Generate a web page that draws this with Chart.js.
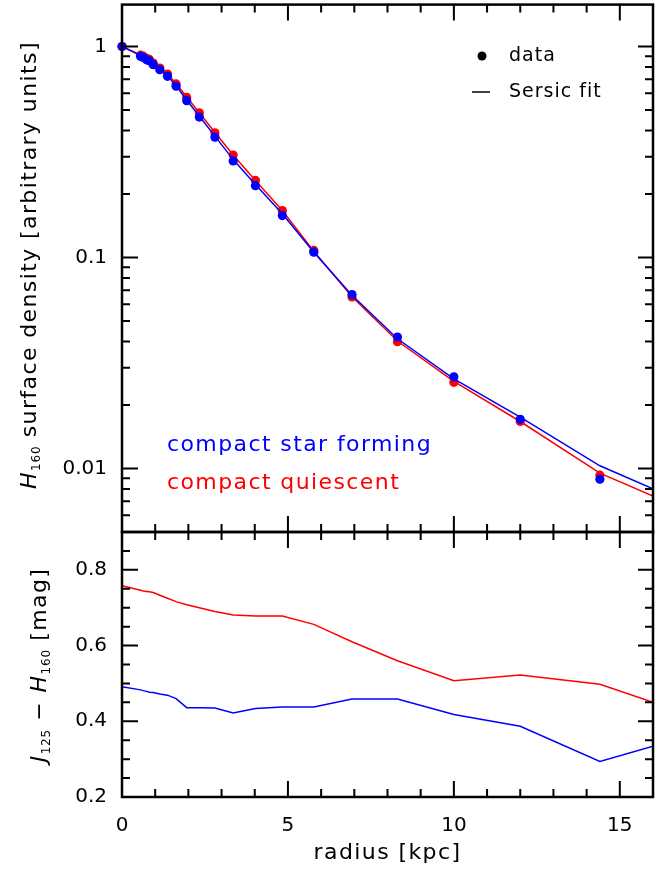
<!DOCTYPE html>
<html>
<head>
<meta charset="utf-8">
<script src="https://cdn.jsdelivr.net/npm/chart.js@4.4.1/dist/chart.umd.min.js"></script>
<style>
  body { margin: 0; background: #fff; }
  #wrap { position: relative; width: 672px; height: 869px; }
  canvas { position: absolute; left: 0; }
  #topChart { top: 0; }
  #bottomChart { top: 520px; }
</style>
</head>
<body>
<div id="wrap">
  <canvas id="topChart" width="672" height="540"></canvas>
  <canvas id="bottomChart" width="672" height="349"></canvas>
</div>
<script>
// radii of the measured points [kpc]
const radius = [0, 0.56, 0.64, 0.74, 0.82, 0.94, 1.14, 1.37, 1.63, 1.95, 2.33, 2.80, 3.35, 4.02, 4.83, 5.78, 6.93, 8.30, 10.0, 12.0, 14.4];
// radii where the fit and colour profiles are evaluated
const fitRadius = [0, 0.56, 0.64, 0.74, 0.82, 0.94, 1.14, 1.37, 1.63, 1.95, 2.33, 2.80, 3.35, 4.02, 4.83, 5.78, 6.93, 8.30, 10.0, 12.0, 14.4, 16.0];

// H160 surface density
const sfData = [1, 0.897, 0.887, 0.865, 0.856, 0.82, 0.776, 0.722, 0.648, 0.554, 0.463, 0.372, 0.287, 0.219, 0.158, 0.106, 0.0667, 0.042, 0.0272, 0.0171, 0.0089];
const qData = [1, 0.91, 0.90, 0.88, 0.87, 0.835, 0.79, 0.74, 0.665, 0.574, 0.485, 0.39, 0.306, 0.232, 0.167, 0.108, 0.065, 0.0399, 0.0256, 0.0167, 0.0093];
const sfFit = [1, 0.905, 0.893, 0.872, 0.86, 0.828, 0.782, 0.727, 0.652, 0.558, 0.467, 0.376, 0.291, 0.222, 0.161, 0.106, 0.0662, 0.0412, 0.0266, 0.0175, 0.0103, 0.0080];
const qFit = [1, 0.912, 0.90, 0.88, 0.868, 0.838, 0.795, 0.742, 0.668, 0.576, 0.485, 0.391, 0.306, 0.232, 0.167, 0.107, 0.0652, 0.0402, 0.0259, 0.0167, 0.0095, 0.0074];

// J125 - H160 colour
const sfColor = [0.491, 0.483, 0.481, 0.479, 0.477, 0.476, 0.472, 0.469, 0.46, 0.436, 0.436, 0.435, 0.422, 0.434, 0.438, 0.438, 0.459, 0.459, 0.418, 0.387, 0.294, 0.334];
const qColor = [0.758, 0.746, 0.744, 0.743, 0.742, 0.740, 0.733, 0.725, 0.716, 0.708, 0.700, 0.690, 0.681, 0.678, 0.678, 0.656, 0.610, 0.560, 0.507, 0.522, 0.498, 0.450];

const xTicks = [0, 5, 10, 15];
const yTopTicks = [1, 0.1, 0.01];
const yBottomTicks = [0.2, 0.4, 0.6, 0.8];

const FONT = "'DejaVu Sans', sans-serif";
const BLUE = "#0000ff";
const RED = "#ff0000";

function toPoints(xs, ys) {
  return ys.map((y, i) => ({ x: xs[i], y: y }));
}

//--TEXT HELPERS---------------------------------------------------------------
function fontFor(p, size) {
  if (p.sub) return "12px " + FONT;
  return (p.italic ? "italic " : "") + size + "px " + FONT;
}

function richText(ctx, parts, cx, cy, opts) {
  const size = opts.size || 22;
  const spacing = opts.spacing !== undefined ? opts.spacing : 1.4;
  ctx.save();
  ctx.translate(cx, cy);
  if (opts.rotate) ctx.rotate(-Math.PI / 2);
  ctx.textBaseline = "middle";
  ctx.textAlign = "left";
  let widths = parts.map((p) => {
    ctx.font = fontFor(p, size);
    ctx.letterSpacing = (p.sub ? 0.8 : spacing) + "px";
    return ctx.measureText(p.text).width;
  });
  let total = widths.reduce((a, b) => a + b, 0);
  let x = opts.align === "left" ? 0 : -total / 2;
  parts.forEach((p, i) => {
    ctx.font = fontFor(p, size);
    ctx.letterSpacing = (p.sub ? 0.8 : spacing) + "px";
    ctx.fillStyle = p.color || "#000";
    ctx.fillText(p.text, x, p.sub ? 7 : 0);
    x += widths[i];
  });
  ctx.restore();
}

//--FRAME AND INWARD TICKS-----------------------------------------------------
function drawFrame(chart, yMajor, yMinor) {
  const ctx = chart.ctx;
  const a = chart.chartArea;
  const xs = chart.scales.x;
  const ys = chart.scales.y;
  ctx.save();
  ctx.strokeStyle = "#000";
  ctx.lineWidth = 2;
  ctx.beginPath();
  for (let v = 0; v <= 16; v++) {
    let len = xTicks.includes(v) ? 16 : 8;
    let px = xs.getPixelForValue(v);
    ctx.moveTo(px, a.bottom);
    ctx.lineTo(px, a.bottom - len);
    ctx.moveTo(px, a.top);
    ctx.lineTo(px, a.top + len);
  }
  yMajor.forEach((v) => {
    let py = ys.getPixelForValue(v);
    ctx.moveTo(a.left, py);
    ctx.lineTo(a.left + 16, py);
    ctx.moveTo(a.right, py);
    ctx.lineTo(a.right - 15, py);
  });
  yMinor.forEach((v) => {
    let py = ys.getPixelForValue(v);
    if (py <= a.top + 1 || py >= a.bottom - 1) return;
    ctx.moveTo(a.left, py);
    ctx.lineTo(a.left + 8, py);
    ctx.moveTo(a.right, py);
    ctx.lineTo(a.right - 8, py);
  });
  ctx.stroke();
  ctx.lineWidth = 2.5;
  ctx.strokeRect(a.left, a.top, a.right - a.left, a.bottom - a.top);
  ctx.restore();
}

const topMinor = [];
[0.001, 0.01, 0.1, 1].forEach((d) => {
  for (let k = 2; k <= 9; k++) topMinor.push(k * d);
});
const bottomMinor = [];
for (let k = 4; k <= 18; k++) bottomMinor.push(k * 0.05);

const topDecor = {
  id: "topDecor",
  afterDraw(chart) {
    const ctx = chart.ctx;
    drawFrame(chart, yTopTicks, topMinor);
    // legend
    ctx.save();
    ctx.fillStyle = "#000";
    ctx.beginPath();
    ctx.arc(482, 56, 4.5, 0, Math.PI * 2);
    ctx.fill();
    ctx.strokeStyle = "#000";
    ctx.lineWidth = 1.5;
    ctx.beginPath();
    ctx.moveTo(472, 92);
    ctx.lineTo(490, 92);
    ctx.stroke();
    ctx.restore();
    richText(ctx, [{ text: "data" }], 509, 56, { align: "left", size: 19, spacing: 1 });
    richText(ctx, [{ text: "Sersic fit" }], 509, 92, { align: "left", size: 19, spacing: 1 });
    richText(ctx, [{ text: "compact star forming", color: BLUE }], 167, 445, { align: "left" });
    richText(ctx, [{ text: "compact quiescent", color: RED }], 167, 483, { align: "left" });
    // y title
    richText(ctx, [
      { text: "H", italic: true },
      { text: "160", sub: true },
      { text: " surface density [arbitrary units]" },
    ], 30, 265, { rotate: true });
  },
};

const bottomDecor = {
  id: "bottomDecor",
  afterDraw(chart) {
    const ctx = chart.ctx;
    drawFrame(chart, yBottomTicks, bottomMinor);
    const a = chart.chartArea;
    richText(ctx, [{ text: "radius [kpc]" }], (a.left + a.right) / 2, 333, {});
    richText(ctx, [
      { text: "J", italic: true },
      { text: "125", sub: true },
      { text: " \u2212 " },
      { text: "H", italic: true },
      { text: "160", sub: true },
      { text: " [mag]" },
    ], 40, 145, { rotate: true });
  },
};

function yAxis(extra) {
  return Object.assign({
    afterFit: (s) => {
      s.width = 122;
      s.paddingTop = 0;
      s.paddingBottom = 0;
    },
    grid: { display: false, drawTicks: false },
    border: { display: false },
    ticks: {
      autoSkip: false,
      padding: 15,
      color: "#000",
      font: { family: FONT, size: 20 },
      callback: (v) => String(v),
    },
  }, extra);
}

//--TOP PANEL-------------------------------------------------------------------
new Chart(document.getElementById("topChart"), {
  type: "scatter",
  data: {
    datasets: [
      { data: toPoints(radius, sfData), backgroundColor: BLUE, borderColor: BLUE, pointRadius: 4.6, pointBorderWidth: 0, clip: false },
      { data: toPoints(fitRadius, sfFit), showLine: true, borderColor: BLUE, borderWidth: 1.5, pointRadius: 0 },
      { data: toPoints(radius, qData), backgroundColor: RED, borderColor: RED, pointRadius: 4.6, pointBorderWidth: 0, clip: false },
      { data: toPoints(fitRadius, qFit), showLine: true, borderColor: RED, borderWidth: 1.5, pointRadius: 0 },
    ],
  },
  options: {
    responsive: false,
    animation: false,
    layout: { padding: { top: 3, right: 19, bottom: 8, left: 0 } },
    plugins: { legend: { display: false }, tooltip: { enabled: false } },
    scales: {
      x: { type: "linear", min: 0, max: 16, display: false },
      y: yAxis({
        type: "logarithmic",
        min: 0.005,
        max: 1.58,
        afterBuildTicks: (s) => { s.ticks = yTopTicks.map((v) => ({ value: v })); },
      }),
    },
  },
  plugins: [topDecor],
});

//--BOTTOM PANEL----------------------------------------------------------------
new Chart(document.getElementById("bottomChart"), {
  type: "scatter",
  data: {
    datasets: [
      { data: toPoints(fitRadius, sfColor), showLine: true, borderColor: BLUE, borderWidth: 1.5, pointRadius: 0 },
      { data: toPoints(fitRadius, qColor), showLine: true, borderColor: RED, borderWidth: 1.5, pointRadius: 0 },
    ],
  },
  options: {
    responsive: false,
    animation: false,
    layout: { padding: { top: 12, right: 19, bottom: 0, left: 0 } },
    plugins: { legend: { display: false }, tooltip: { enabled: false } },
    scales: {
      x: {
        type: "linear",
        min: 0,
        max: 16,
        afterFit: (s) => {
          s.height = 72;
          s.paddingLeft = 0;
          s.paddingRight = 0;
        },
        afterBuildTicks: (s) => { s.ticks = xTicks.map((v) => ({ value: v })); },
        grid: { display: false, drawTicks: false },
        border: { display: false },
        ticks: { autoSkip: false, maxRotation: 0, padding: 17, color: "#000", font: { family: FONT, size: 20 } },
      },
      y: yAxis({
        type: "linear",
        min: 0.2,
        max: 0.9,
        afterBuildTicks: (s) => { s.ticks = yBottomTicks.map((v) => ({ value: v })); },
        ticks: {
          autoSkip: false,
          padding: 15,
          color: "#000",
          font: { family: FONT, size: 20 },
          callback: (v) => v.toFixed(1),
        },
      }),
    },
  },
  plugins: [bottomDecor],
});
</script>
</body>
</html>
